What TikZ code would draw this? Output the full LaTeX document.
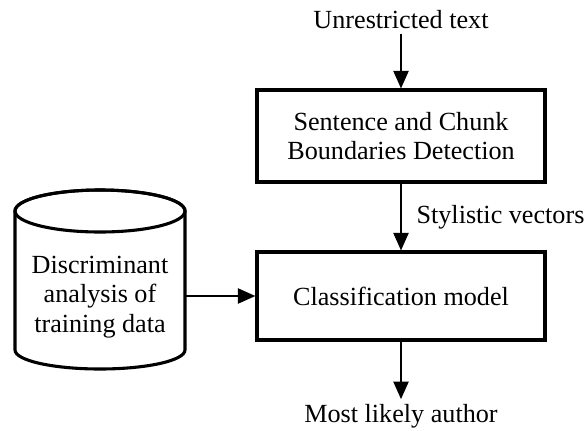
\documentclass[tikz,border=0pt]{standalone}
\usepackage{fontspec}
\setmainfont{Liberation Serif}
\usetikzlibrary{arrows.meta}
\tikzset{>={Triangle[width=0.38cm,length=0.44cm]}}
\tikzset{
  procbox/.style={draw,line width=2.2pt,minimum width=7.2cm,align=center},
  flow/.style={->,line width=1.3pt},
}
\newcommand{\txt}{\fontsize{18.6}{20.8}\selectfont}

\begin{document}
\begin{tikzpicture}[x=0.025cm,y=-0.025cm,font=\txt]
  \useasboundingbox (0,0) rectangle (587,430);
  \node (unres) at (401,20) {Unrestricted text};
  \node[procbox,minimum height=2.3cm] (sbd) at (401,136) {Sentence and Chunk\\Boundaries Detection};
  \node[procbox,minimum height=2.2cm] (cls) at (401,296) {Classification model};
  \node (author) at (401,416) {Most likely author};
  % data store
  \draw[line width=2.2pt,fill=white] (15,211) -- (15,350) arc[start angle=180,end angle=0,x radius=85,y radius=19]
    -- (185,211) arc[start angle=0,end angle=-180,x radius=85,y radius=21] -- cycle;
  \draw[line width=2.2pt] (100,211) ellipse[x radius=85,y radius=21];
  \node[align=center] (disc) at (100,297) {Discriminant\\analysis of\\training data};
  \coordinate (discE) at (186,296);
  \draw[flow] (unres) -- (sbd);
  \draw[flow] (sbd) -- node[right,xshift=0.25cm] (sv) {Stylistic vectors} (cls);
  \draw[flow] (discE) -- (cls.west);
  \draw[flow] (cls) -- (author);
\end{tikzpicture}
\end{document}
